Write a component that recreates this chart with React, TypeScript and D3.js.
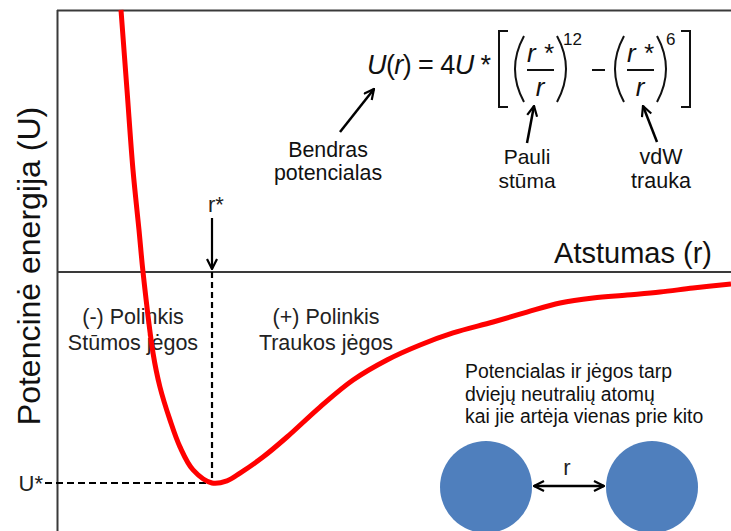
import React from "react";
import * as d3 from "d3";

// Lennard-Jones style potential curve, r in units of r*, U in units of U*
const distances = [
  0.409, 0.448, 0.487, 0.526, 0.552, 0.617, 0.662, 0.727, 0.792, 0.877, 1.0, 1.097,
  1.182, 1.331, 1.487, 1.701, 1.916, 2.136, 2.351, 2.565, 2.825, 3.045, 3.26,
  3.474, 3.695, 3.909, 4.123, 4.37,
];
const energies = [
  1.242, 0.863, 0.483, 0.199, 0.0, -0.384, -0.545, -0.701, -0.829, -0.938, -1.0, -0.99,
  -0.953, -0.877, -0.782, -0.64, -0.512, -0.417, -0.346, -0.289, -0.237, -0.19,
  -0.147, -0.123, -0.109, -0.095, -0.076, -0.057,
];

const rStar = 1;
const uStar = -1;
const rDomain = [0, 4.37];
const uDomain = [-1.2275, 1.2417];

const yAxisTitle = "Potencinė energija (U)";
const xAxisTitle = "Atstumas (r)";
const leftNote = ["(-) Polinkis", "Stūmos jėgos"];
const rightNote = ["(+) Polinkis", "Traukos jėgos"];
const atomsNote = [
  "Potencialas ir jėgos tarp",
  "dviejų neutralių atomų",
  "kai jie artėja vienas prie kito",
];
const totalLabel = ["Bendras", "potencialas"];
const pauliLabel = ["Pauli", "stūma"];
const vdwLabel = ["vdW", "trauka"];

const W = 731;
const H = 531;
const FONT = "'Liberation Sans', Arial, sans-serif";

export default function App() {
  const x = d3.scaleLinear().domain(rDomain).range([58, 731]);
  const y = d3.scaleLinear().domain(uDomain).range([531, 10]);

  const pts: [number, number][] = distances.map((d, i) => [d, energies[i]]);
  const line = d3
    .line<[number, number]>()
    .x((d) => x(d[0]))
    .y((d) => y(d[1]))
    .curve(d3.curveCatmullRom.alpha(0.5));

  const axisColor = "#3a3a3a";
  const xr = x(rStar);
  const y0 = y(0);
  const yu = y(uStar);

  return (
    <svg
      width={W}
      height={H}
      style={{ position: "absolute", left: 0, top: 0, background: "#fff" }}
      fontFamily={FONT}
    >
      <defs>
        <marker
          id="arrowV"
          viewBox="0 0 12 12"
          refX="11"
          refY="6"
          markerWidth="12"
          markerHeight="12"
          markerUnits="userSpaceOnUse"
          orient="auto-start-reverse"
        >
          <path d="M1,1 L11,6 L1,11" fill="none" stroke="#000" strokeWidth="2.2" />
        </marker>
      </defs>
      <rect x={0} y={0} width={W} height={H} fill="#fff" />

      {/* frame and zero-energy axis */}
      <line x1={57.5} y1={10} x2={57.5} y2={H} stroke={axisColor} strokeWidth={2} />
      <line x1={57} y1={10.5} x2={W} y2={10.5} stroke={axisColor} strokeWidth={2} />
      <line x1={57} y1={y0} x2={W} y2={y0} stroke={axisColor} strokeWidth={2} />

      {/* equilibrium guides */}
      <line x1={xr} y1={y0} x2={xr} y2={yu} stroke="#000" strokeWidth={2.2} strokeDasharray="6,4" />
      <line x1={45} y1={yu} x2={xr} y2={yu} stroke="#000" strokeWidth={2.2} strokeDasharray="7,4" />
      <text x={43} y={yu + 8} fontSize={22} textAnchor="end" fill="#222">
        U*
      </text>
      <text x={216} y={212} fontSize={22} textAnchor="middle" fill="#222">
        r*
      </text>
      <line x1={xr} y1={218} x2={xr} y2={y0 - 3} stroke="#000" strokeWidth={2.2} markerEnd="url(#arrowV)" />

      {/* axis titles */}
      <text
        transform={`translate(40,${266}) rotate(-90)`}
        textAnchor="middle"
        fontSize={32}
        fill="#111"
      >
        {yAxisTitle}
      </text>
      <text x={712} y={263} textAnchor="end" fontSize={29} fill="#111">
        {xAxisTitle}
      </text>

      {/* region notes */}
      {leftNote.map((t, i) => (
        <text key={t} x={133} y={324 + i * 26} textAnchor="middle" fontSize={21.5} fill="#222">
          {t}
        </text>
      ))}
      {rightNote.map((t, i) => (
        <text key={t} x={326} y={324 + i * 26} textAnchor="middle" fontSize={21.5} fill="#222">
          {t}
        </text>
      ))}
      {atomsNote.map((t, i) => (
        <text key={t} x={465} y={378 + i * 22.5} fontSize={19.4} fill="#111">
          {t}
        </text>
      ))}

      {/* potential curve */}
      <path d={line(pts) || ""} fill="none" stroke="#ff0000" strokeWidth={5} strokeLinejoin="round" />

      {/* two atoms */}
      <circle cx={486} cy={487} r={46} fill="#4f7fbd" />
      <circle cx={652} cy={487} r={46} fill="#4f7fbd" />
      <line x1={534} y1={486} x2={604} y2={486} stroke="#000" strokeWidth={2.5} markerStart="url(#arrowV)" markerEnd="url(#arrowV)" />
      <text x={567} y={475} textAnchor="middle" fontSize={22} fill="#222">
        r
      </text>

      {/* equation */}
      <text x={367} y={74} fontSize={27} fill="#111" textLength={124} lengthAdjust="spacing">
        <tspan fontStyle="italic">U</tspan>
        <tspan>(</tspan>
        <tspan fontStyle="italic">r</tspan>
        <tspan>) = 4</tspan>
        <tspan fontStyle="italic">U</tspan>
        <tspan> *</tspan>
      </text>
      <path d="M508,31 L499,31 L499,107 L508,107" fill="none" stroke="#111" strokeWidth={2} />
      <path d="M524,36 Q506,69 524,102" fill="none" stroke="#111" strokeWidth={2} />
      <path d="M557,36 Q575,69 557,102" fill="none" stroke="#111" strokeWidth={2} />
      <text x={540} y={62} textAnchor="middle" fontSize={26} fontStyle="italic" fill="#111">
        r *
      </text>
      <line x1={527} y1={70} x2={554} y2={70} stroke="#111" strokeWidth={2} />
      <text x={540} y={96} textAnchor="middle" fontSize={26} fontStyle="italic" fill="#111">
        r
      </text>
      <text x={563} y={45} fontSize={17} fill="#111">
        12
      </text>
      <line x1={592} y1={70} x2={605} y2={70} stroke="#111" strokeWidth={2} />
      <path d="M624,36 Q606,69 624,102" fill="none" stroke="#111" strokeWidth={2} />
      <path d="M657,36 Q675,69 657,102" fill="none" stroke="#111" strokeWidth={2} />
      <text x={640} y={62} textAnchor="middle" fontSize={26} fontStyle="italic" fill="#111">
        r *
      </text>
      <line x1={627} y1={70} x2={654} y2={70} stroke="#111" strokeWidth={2} />
      <text x={640} y={96} textAnchor="middle" fontSize={26} fontStyle="italic" fill="#111">
        r
      </text>
      <text x={666} y={45} fontSize={17} fill="#111">
        6
      </text>
      <path d="M681,31 L690,31 L690,107 L681,107" fill="none" stroke="#111" strokeWidth={2} />

      {/* equation callouts */}
      <line x1={340} y1={132} x2={374} y2={89} stroke="#000" strokeWidth={2.5} markerEnd="url(#arrowV)" />
      {totalLabel.map((t, i) => (
        <text key={t} x={328} y={157 + i * 23} textAnchor="middle" fontSize={21.4} fill="#111">
          {t}
        </text>
      ))}
      <line x1={527} y1={143} x2={534} y2={106} stroke="#000" strokeWidth={2.5} markerEnd="url(#arrowV)" />
      {pauliLabel.map((t, i) => (
        <text key={t} x={527} y={164 + i * 24} textAnchor="middle" fontSize={21} fill="#111">
          {t}
        </text>
      ))}
      <line x1={657} y1={142} x2={643} y2={106} stroke="#000" strokeWidth={2.5} markerEnd="url(#arrowV)" />
      {vdwLabel.map((t, i) => (
        <text key={t} x={661} y={164 + i * 24} textAnchor="middle" fontSize={21.5} fill="#111">
          {t}
        </text>
      ))}
    </svg>
  );
}
